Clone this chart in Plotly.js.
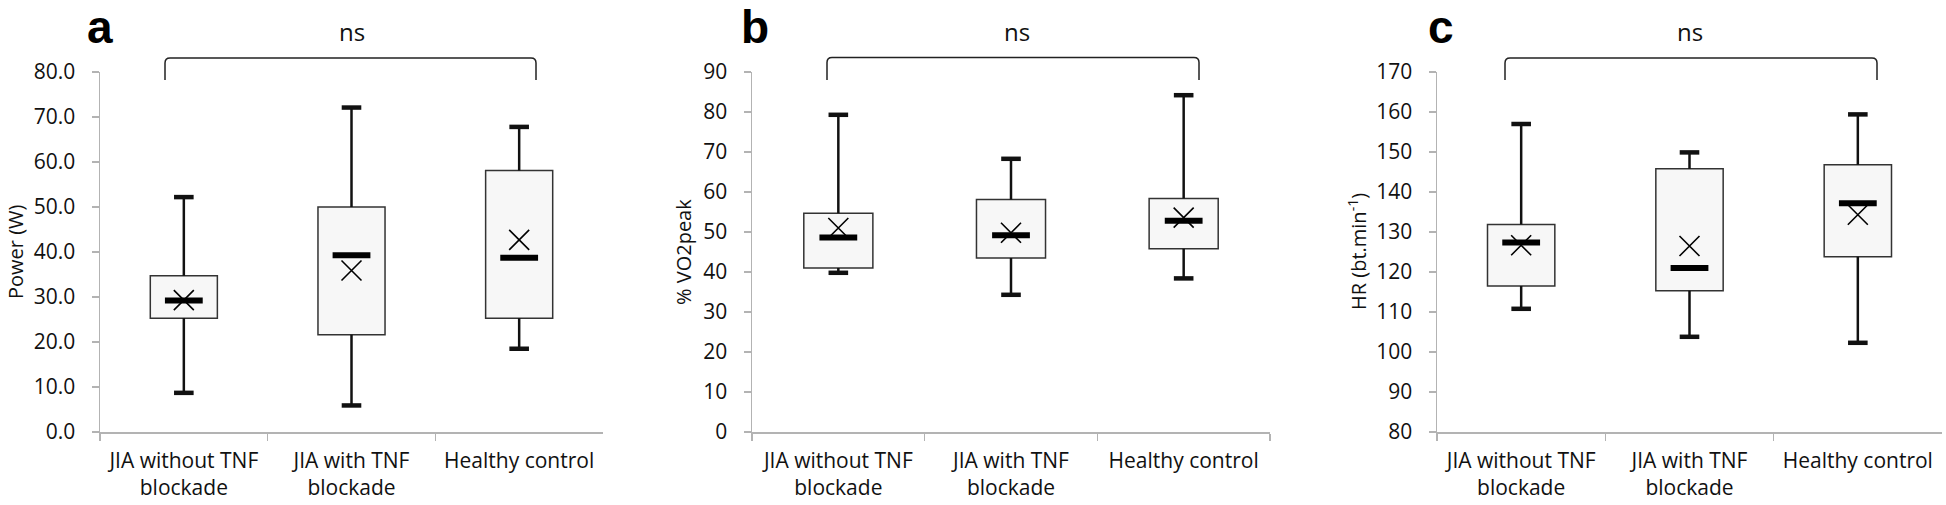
<!DOCTYPE html>
<html>
<head>
<meta charset="utf-8">
<script src="https://cdn.plot.ly/plotly-3.0.1.min.js"></script>
<style>html,body{margin:0;padding:0;background:#fff;}#chart{width:1946px;height:505px;}</style>
</head>
<body>
<div id="chart"></div>
<script>
// ---- data ----
const categories = ["JIA without TNF<br>blockade", "JIA with TNF<br>blockade", "Healthy control"];

// Panel a: Power (W)
const powerMin    = [8.7, 5.9, 18.5];
const powerQ1     = [25.3, 21.6, 25.3];
const powerMedian = [29.2, 39.3, 38.7];
const powerQ3     = [34.7, 50.0, 58.1];
const powerMax    = [52.2, 72.1, 67.8];
const powerMean   = [29.3, 35.9, 42.7];

// Panel b: % VO2peak
const vo2Min    = [39.8, 34.3, 38.4];
const vo2Q1     = [41.0, 43.5, 45.8];
const vo2Median = [48.6, 49.2, 52.8];
const vo2Q3     = [54.7, 58.1, 58.4];
const vo2Max    = [79.3, 68.3, 84.2];
const vo2Mean   = [51.0, 49.8, 53.6];

// Panel c: HR (bt.min-1)
const hrMin    = [110.8, 103.8, 102.3];
const hrQ1     = [116.5, 115.3, 123.8];
const hrMedian = [127.4, 121.0, 137.2];
const hrQ3     = [131.9, 145.8, 146.8];
const hrMax    = [157.0, 149.9, 159.4];
const hrMean   = [126.7, 126.5, 134.3];

const yTitles = ["Power (W)", "% VO2peak", "HR (bt.min<sup>-1</sup>)"];
const panelLetters = ["a", "b", "c"];
const sigLabel = "ns";

// ---- geometry (pixels) ----
const W = 1946, H = 505;
const px = v => v / W;
const py = v => 1 - v / H;
const FONT = "'Open Sans', 'Liberation Sans', sans-serif";

const panels = [
  {min: powerMin, q1: powerQ1, med: powerMedian, q3: powerQ3, max: powerMax, mean: powerMean,
   range: [0, 80], dtick: 10, fmt: ".1f", x0: 100, x1: 603, titleX: 15, letterX: 100,
   br: [165, 536, 58], nsX: 352},
  {min: vo2Min, q1: vo2Q1, med: vo2Median, q3: vo2Q3, max: vo2Max, mean: vo2Mean,
   range: [0, 90], dtick: 10, fmt: "d", x0: 752, x1: 1270, titleX: 683, letterX: 755,
   br: [827, 1199, 57.5], nsX: 1017},
  {min: hrMin, q1: hrQ1, med: hrMedian, q3: hrQ3, max: hrMax, mean: hrMean,
   range: [80, 170], dtick: 10, fmt: "d", x0: 1437, x1: 1942, titleX: 1357, letterX: 1441,
   br: [1505, 1877, 58], nsX: 1690}
];
const yTop = 72, yBot = 432;

const traces = [];
const layout = {
  width: W, height: H,
  margin: {l: 0, r: 0, t: 0, b: 0},
  paper_bgcolor: "#fff", plot_bgcolor: "#fff",
  showlegend: false,
  font: {family: FONT, color: "#111", size: 21},
  annotations: [], shapes: []
};

panels.forEach((p, i) => {
  const n = i === 0 ? "" : String(i + 1);
  const xa = "x" + n, ya = "y" + n;
  // boxes
  traces.push({
    type: "bar", x: categories, base: p.q1,
    y: p.q3.map((v, k) => v - p.q1[k]),
    width: 0.4, xaxis: xa, yaxis: ya,
    marker: {color: "#f7f7f7", line: {color: "#333", width: 1.5}},
    hoverinfo: "skip"
  });
  // whiskers
  const wx = [], wy = [];
  categories.forEach((c, k) => {
    wx.push(c, c, null, c, c, null);
    wy.push(p.q3[k], p.max[k], null, p.q1[k], p.min[k], null);
  });
  traces.push({
    type: "scatter", mode: "lines", x: wx, y: wy, xaxis: xa, yaxis: ya,
    line: {color: "#111", width: 2.5}, connectgaps: false, hoverinfo: "skip"
  });
  // caps
  traces.push({
    type: "scatter", mode: "markers", xaxis: xa, yaxis: ya,
    x: categories.concat(categories), y: p.max.concat(p.min),
    marker: {symbol: "line-ew", size: 14, color: "#111", line: {color: "#111", width: 4.5}},
    hoverinfo: "skip"
  });
  // medians
  traces.push({
    type: "scatter", mode: "markers", xaxis: xa, yaxis: ya,
    x: categories, y: p.med,
    marker: {symbol: "line-ew", size: 27, color: "#000", line: {color: "#000", width: 6}},
    hoverinfo: "skip"
  });
  // means
  traces.push({
    type: "scatter", mode: "markers", xaxis: xa, yaxis: ya,
    x: categories, y: p.mean,
    marker: {symbol: "x-thin-open", size: 20, color: "#000", line: {color: "#000", width: 1.6}},
    hoverinfo: "skip"
  });

  layout["xaxis" + n] = {
    domain: [px(p.x0), px(p.x1)], anchor: ya, type: "category",
    range: [-0.5, 2.5], showline: true, linecolor: "#b3b3b3", linewidth: 1.5,
    ticks: "outside", tickson: "boundaries", ticklen: 7, tickcolor: "#b3b3b3", tickwidth: 1.5,
    showgrid: false, zeroline: false, tickfont: {family: FONT, size: 21, color: "#111"},
    ticklabelstandoff: 9, fixedrange: true
  };
  layout["yaxis" + n] = {
    domain: [py(yBot), py(yTop)], anchor: xa,
    range: p.range, dtick: p.dtick, tick0: 0, tickformat: p.fmt,
    showline: true, linecolor: "#b3b3b3", linewidth: 1.5,
    ticks: "outside", ticklen: 7, tickcolor: "#b3b3b3", tickwidth: 1.5,
    showgrid: false, zeroline: false, tickfont: {family: FONT, size: 21, color: "#111"},
    ticklabelstandoff: 12, fixedrange: true
  };

  // y title
  layout.annotations.push({
    text: yTitles[i], xref: "paper", yref: "paper", x: px(p.titleX), y: py((yTop + yBot) / 2),
    xanchor: "center", yanchor: "middle", textangle: -90, showarrow: false,
    font: {family: FONT, size: 20, color: "#111"}
  });
  // panel letter
  layout.annotations.push({
    text: "<b>" + panelLetters[i] + "</b>", xref: "paper", yref: "paper",
    x: px(p.letterX), y: py(27), xanchor: "center", yanchor: "middle", showarrow: false,
    font: {family: "'Liberation Sans', Arial, sans-serif", size: 46, color: "#000"}
  });
  // ns
  layout.annotations.push({
    text: sigLabel, xref: "paper", yref: "paper", x: px(p.nsX), y: py(31),
    xanchor: "center", yanchor: "middle", showarrow: false,
    font: {family: FONT, size: 24, color: "#111"}
  });
  // bracket
  const [bx0, bx1, by] = p.br, bb = 80, r = 5;
  const path = `M ${px(bx0)},${py(bb)} L ${px(bx0)},${py(by + r)} Q ${px(bx0)},${py(by)} ${px(bx0 + r)},${py(by)} ` +
               `L ${px(bx1 - r)},${py(by)} Q ${px(bx1)},${py(by)} ${px(bx1)},${py(by + r)} L ${px(bx1)},${py(bb)}`;
  layout.shapes.push({type: "path", xref: "paper", yref: "paper", path: path,
    line: {color: "#222", width: 1.5}});
});

Plotly.newPlot("chart", traces, layout, {displayModeBar: false, staticPlot: true});
</script>
</body>
</html>
